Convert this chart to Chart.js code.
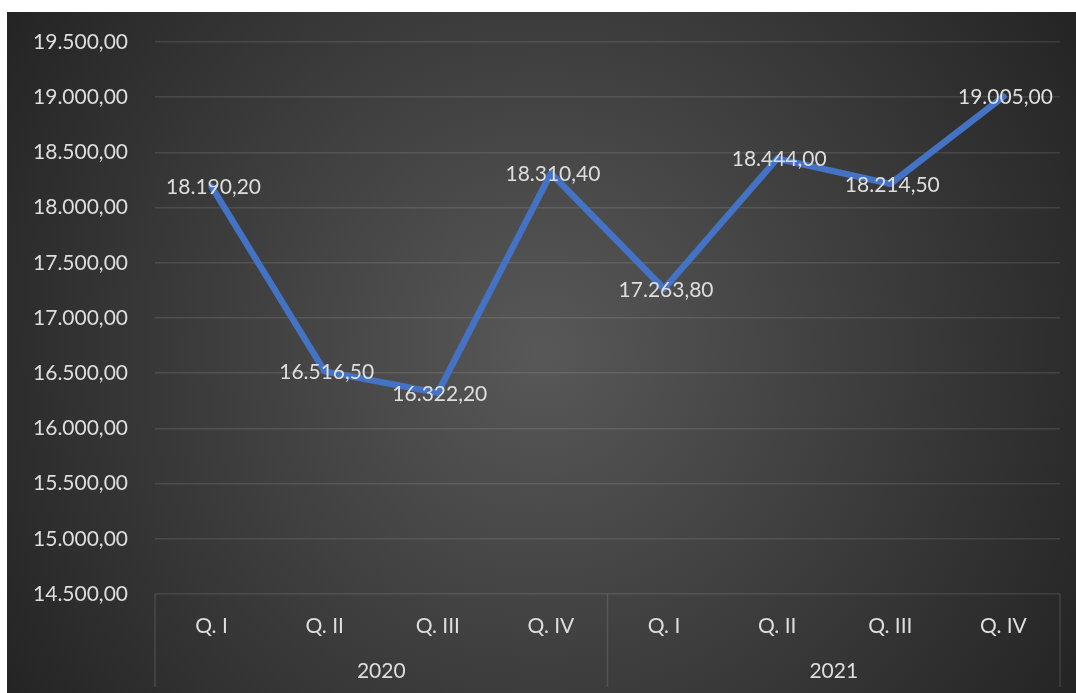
<!DOCTYPE html>
<html>
<head>
<meta charset="utf-8">
<script src="https://cdn.jsdelivr.net/npm/chart.js@4.4.1/dist/chart.umd.min.js"></script>
<style>
  html, body { margin: 0; padding: 0; background: #ffffff; }
  #wrap { width: 1076px; height: 693px; position: relative; }
</style>
</head>
<body>
<div id="wrap"><canvas id="c" width="1076" height="693"></canvas></div>
<script>
const quarters = ['Q. I', 'Q. II', 'Q. III', 'Q. IV', 'Q. I', 'Q. II', 'Q. III', 'Q. IV'];
const years = ['2020', '2021'];
const values = [18190.2, 16516.5, 16322.2, 18310.4, 17263.8, 18444.0, 18214.5, 19005.0];
const yMin = 14500, yMax = 19500, yStep = 500;

const FONT = 'Lato, "Open Sans", sans-serif';
const TEXT = '#dedede';
const FS = 21;

function fmt(v) {
  const neg = v < 0; v = Math.abs(v);
  const fixed = v.toFixed(2);
  let [ip, dp] = fixed.split('.');
  ip = ip.replace(/\B(?=(\d{3})+(?!\d))/g, '.');
  return (neg ? '-' : '') + ip + ',' + dp;
}

const bgPlugin = {
  id: 'bg',
  beforeDraw(chart) {
    const ctx = chart.ctx;
    const W = chart.width, H = chart.height;
    ctx.save();
    ctx.fillStyle = '#ffffff';
    ctx.fillRect(0, 0, W, H);
    const x0 = 7, y0 = 12;
    const cx = (x0 + W) / 2, cy = (y0 + H) / 2;
    const g = ctx.createRadialGradient(cx, cy, 0, cx, cy, Math.hypot(W - cx, H - cy));
    g.addColorStop(0, '#585858');
    g.addColorStop(1, '#242424');
    ctx.fillStyle = g;
    ctx.fillRect(x0, y0, W - x0, H - y0);
    ctx.restore();
  }
};

const sepPlugin = {
  id: 'sep',
  afterDraw(chart) {
    const ctx = chart.ctx;
    const a = chart.chartArea;
    const n = quarters.length;
    const w = (a.right - a.left) / n;
    const bounds = [a.left, a.left + w * 4, a.right];
    ctx.save();
    ctx.strokeStyle = 'rgba(217,217,217,0.14)';
    ctx.lineWidth = 1.5;
    ctx.beginPath();
    bounds.forEach(bx => {
      ctx.moveTo(bx, a.bottom);
      ctx.lineTo(bx, chart.height - 6);
    });
    ctx.stroke();
    ctx.restore();
  }
};

const labelPlugin = {
  id: 'dlabels',
  afterDatasetsDraw(chart) {
    const ctx = chart.ctx;
    const meta = chart.getDatasetMeta(0);
    ctx.save();
    ctx.font = FS + 'px ' + FONT;
    ctx.fillStyle = TEXT;
    ctx.textAlign = 'center';
    ctx.textBaseline = 'middle';
    meta.data.forEach((pt, i) => {
      ctx.fillText(fmt(values[i]), pt.x + 2, pt.y + 1);
    });
    ctx.restore();
  }
};

new Chart(document.getElementById('c'), {
  type: 'line',
  data: {
    labels: quarters,
    datasets: [{
      data: values,
      borderColor: '#4472C4',
      borderWidth: 6.5,
      pointRadius: 0,
      tension: 0,
      borderCapStyle: 'round',
      borderJoinStyle: 'round',
      fill: false
    }]
  },
  options: {
    responsive: false,
    animation: false,
    devicePixelRatio: 1,
    layout: { padding: { left: 7, top: 42, right: 16, bottom: 0 } },
    plugins: { legend: { display: false }, tooltip: { enabled: false } },
    scales: {
      y: {
        min: yMin, max: yMax,
        ticks: {
          stepSize: yStep,
          color: TEXT,
          font: { family: FONT, size: FS },
          padding: 27,
          callback: v => fmt(v)
        },
        grid: { color: 'rgba(217,217,217,0.13)', lineWidth: 1.5, drawTicks: false },
        border: { display: false },
        afterFit(s) { s.width = 148; }
      },
      x: {
        type: 'category',
        offset: true,
        ticks: {
          color: TEXT,
          font: { family: FONT, size: FS },
          padding: 20,
          maxRotation: 0,
          autoSkip: false
        },
        grid: { display: false, drawTicks: false },
        border: { display: false },
        afterFit(s) { s.height = 56; }
      },
      x2: {
        type: 'category',
        position: 'bottom',
        labels: years,
        offset: true,
        ticks: {
          color: TEXT,
          font: { family: FONT, size: FS },
          padding: 9,
          maxRotation: 0,
          autoSkip: false
        },
        grid: { display: false, drawTicks: false },
        border: { display: false },
        afterFit(s) { s.height = 43; }
      }
    }
  },
  plugins: [bgPlugin, sepPlugin, labelPlugin]
});
</script>
</body>
</html>
